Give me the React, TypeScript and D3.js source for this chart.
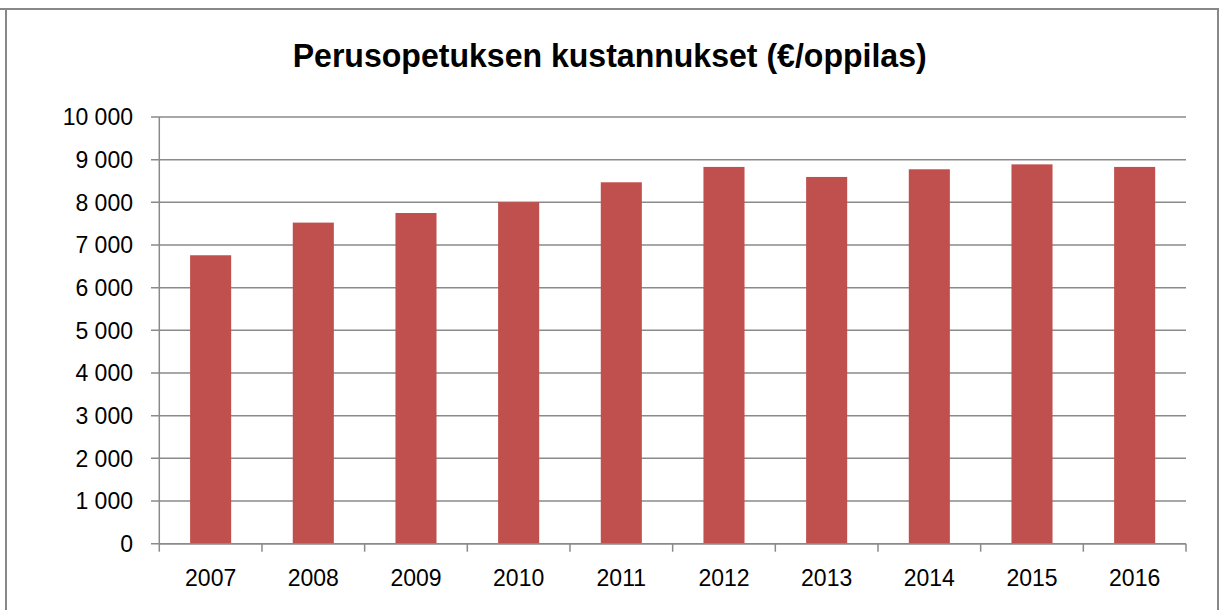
import React from "react";
import * as d3 from "d3";

const years = ["2007", "2008", "2009", "2010", "2011", "2012", "2013", "2014", "2015", "2016"];
const costs = [6760, 7525, 7750, 8005, 8470, 8830, 8595, 8775, 8890, 8830];
const yTicks = [0, 1000, 2000, 3000, 4000, 5000, 6000, 7000, 8000, 9000, 10000];
const title = "Perusopetuksen kustannukset (€/oppilas)";

const W = 1219;
const H = 610;
const left = 159.3;
const right = 1186;
const top = 117;
const bottom = 543.7;

const fmt = (v: number) => {
  const s = String(v);
  return s.length > 3 ? s.slice(0, s.length - 3) + " " + s.slice(s.length - 3) : s;
};

export default function App() {
  const x = d3.scaleBand<string>().domain(years).range([left, right]).paddingInner(0.6).paddingOuter(0.3);
  const xStep = (right - left) / years.length;
  const y = d3.scaleLinear().domain([0, 10000]).range([bottom, top]);
  const grid = "#8a8a8a";
  const font = "'Liberation Sans', Arial, sans-serif";
  return (
    <svg width={W} height={H} style={{ position: "absolute", left: 0, top: 0, background: "#fff" }}>
      <rect x={0} y={0} width={W} height={H} fill="#fff" />
      {/* frame */}
      <line x1={0} x2={W} y1={9} y2={9} stroke="#888" strokeWidth={2} />
      <line x1={6} x2={6} y1={9} y2={H} stroke="#888" strokeWidth={2} />
      <line x1={1218} x2={1218} y1={9} y2={H} stroke="#888" strokeWidth={2} />
      <text
        x={609.7}
        y={66.7}
        textAnchor="middle"
        fontFamily={font}
        fontWeight="bold"
        fontSize={32.5}
        textLength={634}
        lengthAdjust="spacingAndGlyphs"
        fill="#000"
      >
        {title}
      </text>
      {/* gridlines and y ticks */}
      {yTicks.map((t) => (
        <g key={t}>
          <line x1={151} x2={right} y1={y(t)} y2={y(t)} stroke={grid} strokeWidth={1.5} />
          <text x={133} y={y(t) + 8.3} textAnchor="end" fontFamily={font} fontSize={23} fill="#000">
            {fmt(t)}
          </text>
        </g>
      ))}
      {/* bars */}
      {years.map((yr, i) => (
        <rect
          key={yr}
          x={x(yr)}
          y={y(costs[i])}
          width={x.bandwidth()}
          height={bottom - y(costs[i])}
          fill="#C0504D"
        />
      ))}
      {/* y axis */}
      <line x1={left} x2={left} y1={top} y2={bottom} stroke={grid} strokeWidth={1.5} />
      {/* x axis */}
      <line x1={left} x2={right} y1={bottom} y2={bottom} stroke={grid} strokeWidth={1.5} />
      {d3.range(years.length + 1).map((i) => (
        <line
          key={i}
          x1={left + i * xStep}
          x2={left + i * xStep}
          y1={bottom}
          y2={bottom + 8}
          stroke={grid}
          strokeWidth={1.5}
        />
      ))}
      {years.map((yr) => (
        <text
          key={yr}
          x={(x(yr) as number) + x.bandwidth() / 2}
          y={586}
          textAnchor="middle"
          fontFamily={font}
          fontSize={23}
          fill="#000"
        >
          {yr}
        </text>
      ))}
    </svg>
  );
}
